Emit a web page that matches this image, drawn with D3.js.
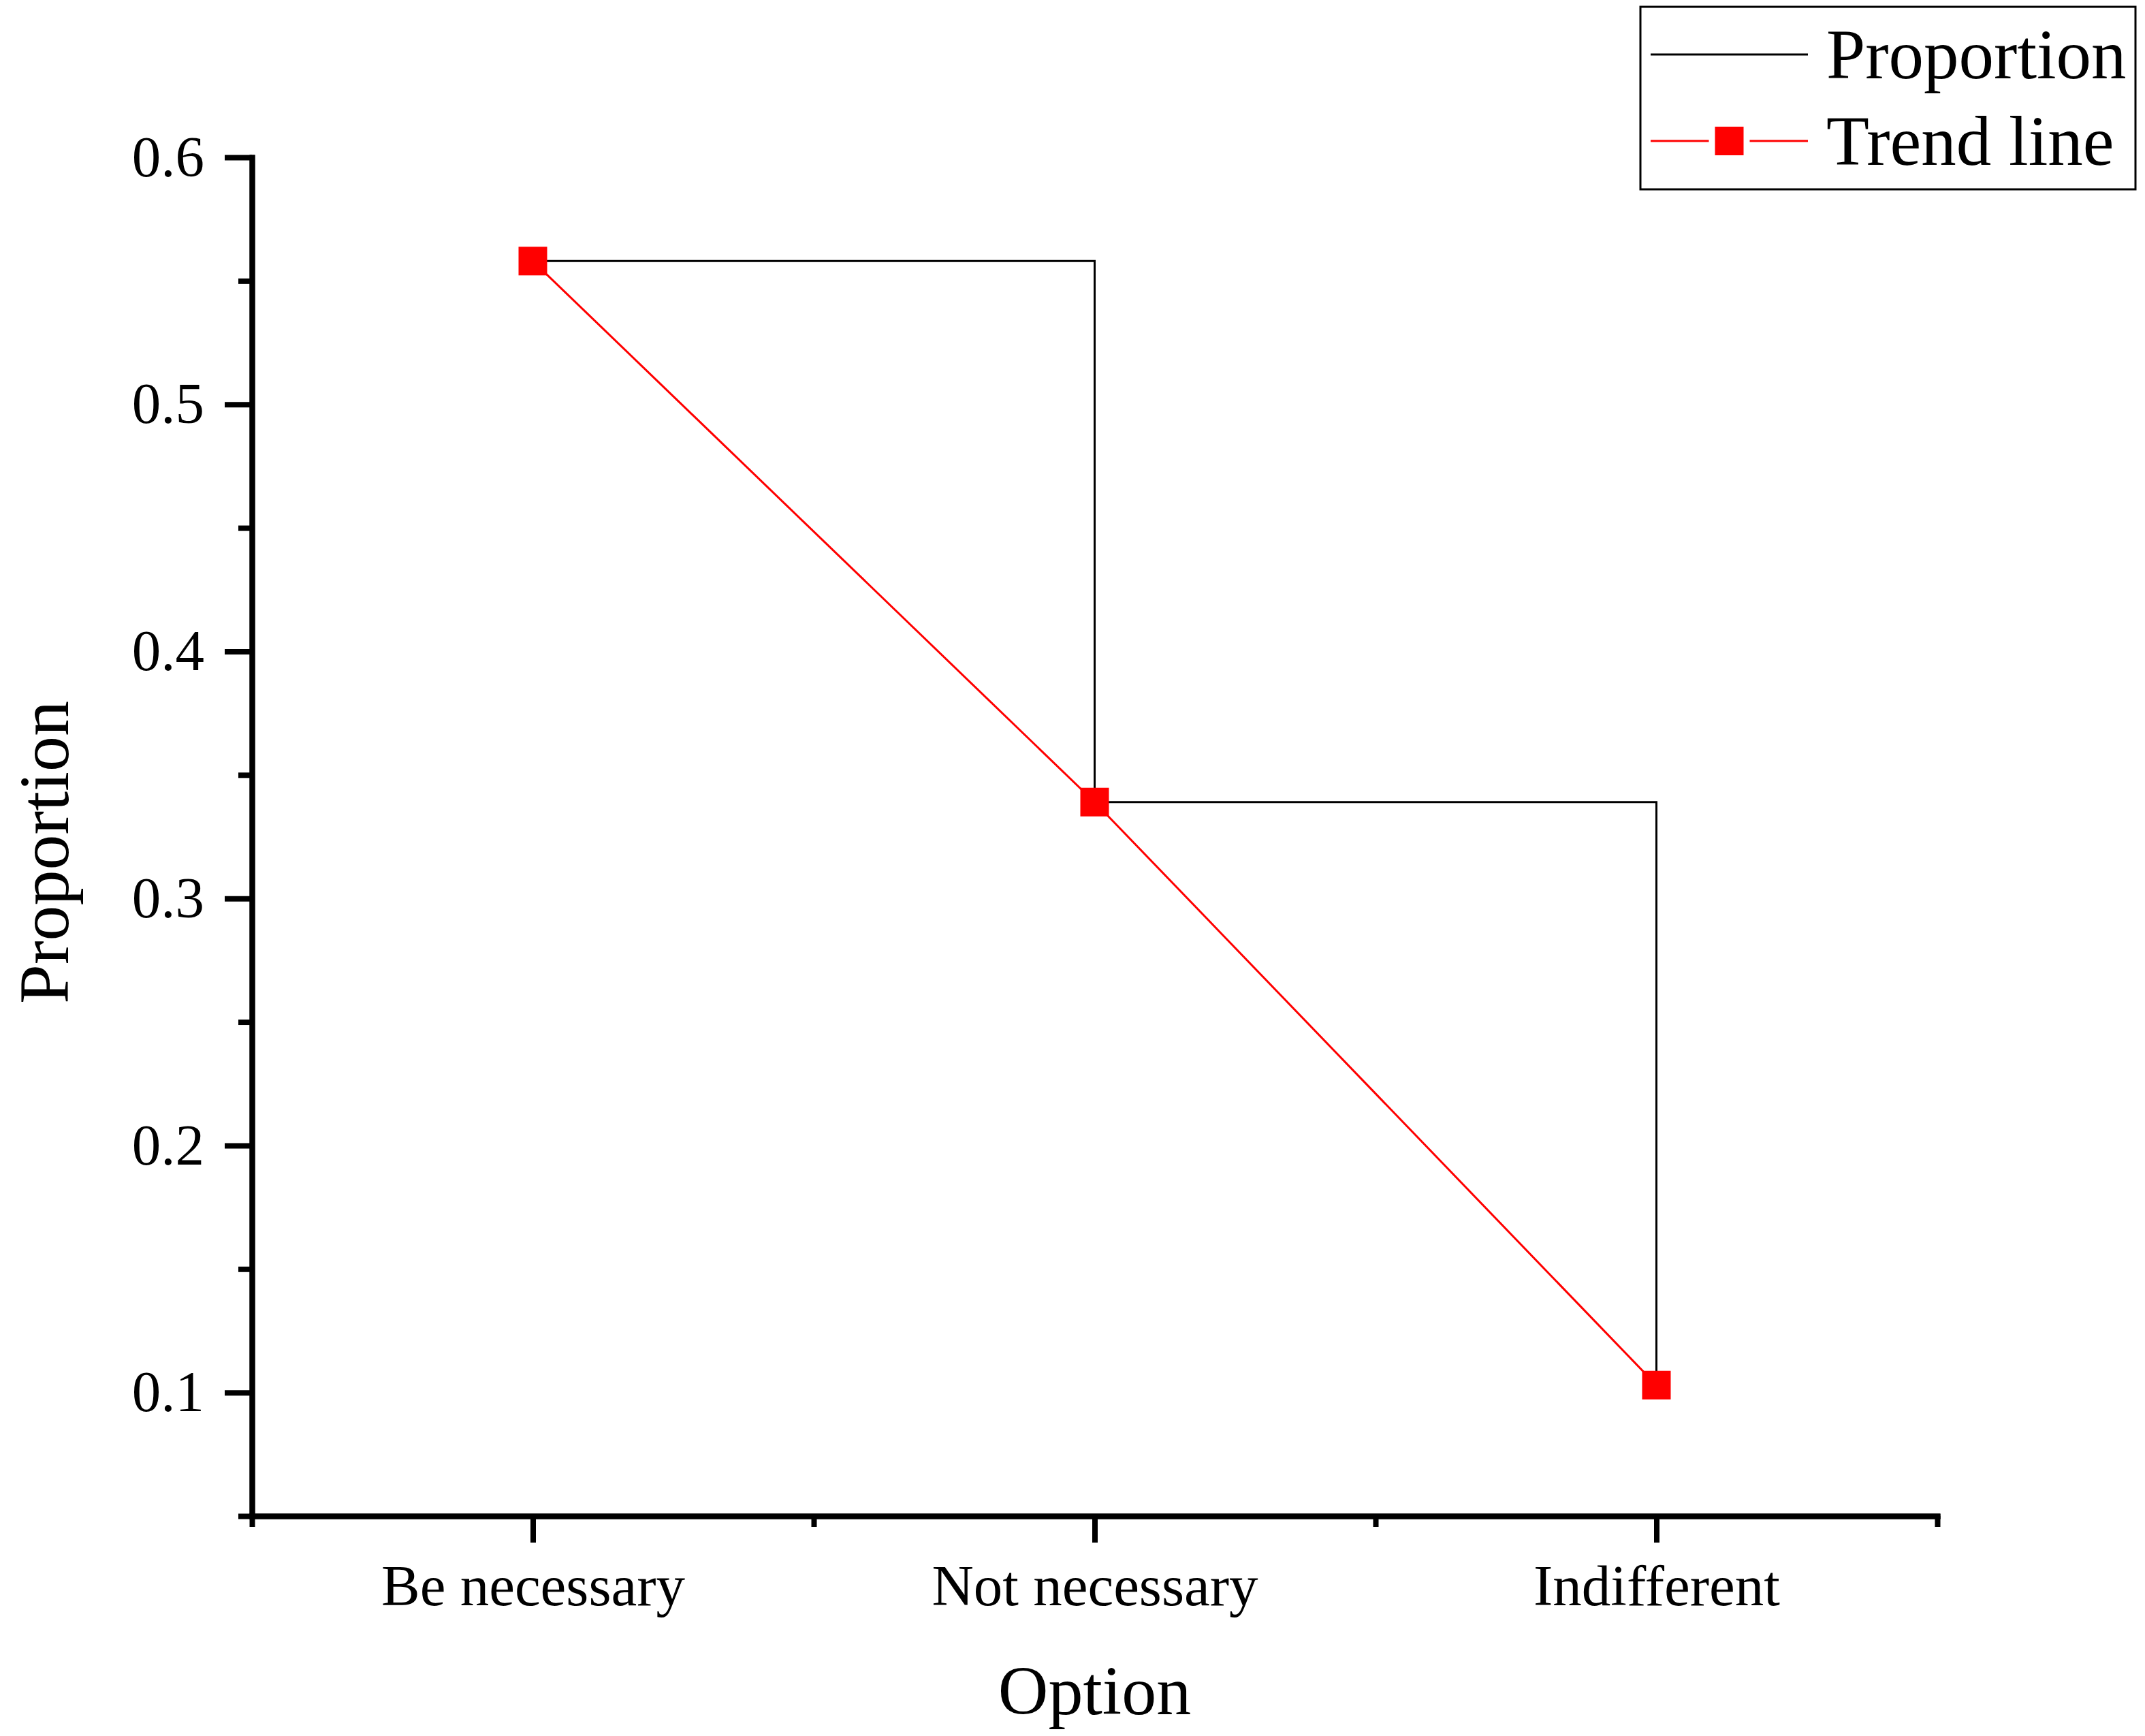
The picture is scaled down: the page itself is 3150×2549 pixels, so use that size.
<!DOCTYPE html>
<html>
<head>
<meta charset="utf-8">
<script src="https://cdn.jsdelivr.net/npm/d3@7/dist/d3.min.js"></script>
<style>
  html, body { margin: 0; padding: 0; background: #ffffff; }
  svg { display: block; }
  text { font-family: "Liberation Serif", "Times New Roman", serif; fill: #000; }
</style>
</head>
<body>
<svg id="chart" width="3150" height="2549"></svg>
<script>
// ---- Data ----
const categories = ["Be necessary", "Not necessary", "Indifferent"];
const proportion = [0.558, 0.339, 0.103];
const trendLine = [0.558, 0.339, 0.103];
const yMajorTicks = [0.1, 0.2, 0.3, 0.4, 0.5, 0.6];
const yMinorTicks = [0.05, 0.15, 0.25, 0.35, 0.45, 0.55];
const xMinorTicks = [-0.5, 0.5, 1.5, 2.5];
const seriesNames = ["Proportion", "Trend line"];
const xTitle = "Option";
const yTitle = "Proportion";

// ---- Layout ----
const W = 3150, H = 2549;
const plotL = 370, plotR = 2845, plotT = 231, plotB = 2226;
const svg = d3.select("#chart");
svg.append("rect").attr("width", W).attr("height", H).attr("fill", "#ffffff");

const x = d3.scaleLinear().domain([-0.5, 2.5]).range([plotL, plotR]);
const y = d3.scaleLinear().domain([0.05, 0.6]).range([plotB, plotT]);

const axisStroke = 8;
function styleAxis(g) {
  g.select(".domain").attr("stroke", "#000").attr("stroke-width", axisStroke).attr("stroke-linecap", "square");
  g.selectAll(".tick line").attr("stroke", "#000").attr("stroke-width", axisStroke);
}

// Y axis minor
const gyMinor = svg.append("g").attr("transform", `translate(${plotL},0)`)
  .call(d3.axisLeft(y).tickValues(yMinorTicks).tickSize(20).tickSizeOuter(0).tickFormat(""));
styleAxis(gyMinor);
// Y axis major
const gy = svg.append("g").attr("transform", `translate(${plotL},0)`)
  .call(d3.axisLeft(y).tickValues(yMajorTicks).tickSize(40).tickSizeOuter(0).tickPadding(30).tickFormat(d3.format(".1f")));
styleAxis(gy);
gy.selectAll(".tick text").attr("font-size", 85).attr("dy", "0.32em")
  .style("font-family", '"Liberation Serif", "Times New Roman", serif');

// X axis minor
const gxMinor = svg.append("g").attr("transform", `translate(0,${plotB})`)
  .call(d3.axisBottom(x).tickValues(xMinorTicks).tickSize(16).tickSizeOuter(0).tickFormat(""));
styleAxis(gxMinor);
// X axis major
const gx = svg.append("g").attr("transform", `translate(0,${plotB})`)
  .call(d3.axisBottom(x).tickValues(d3.range(categories.length)).tickSize(39).tickSizeOuter(0).tickPadding(32)
    .tickFormat(i => categories[i]));
styleAxis(gx);
gx.selectAll(".tick text").attr("font-size", 85)
  .style("font-family", '"Liberation Serif", "Times New Roman", serif');

// Axis titles
svg.append("text").attr("x", (plotL + plotR) / 2).attr("y", 2517)
  .attr("text-anchor", "middle").attr("font-size", 102).text(xTitle);
svg.append("text").attr("transform", `translate(100,${(plotT + plotB) / 2 + 23}) rotate(-90)`)
  .attr("text-anchor", "middle").attr("font-size", 104).text(yTitle);

// ---- Series ----
const propLine = d3.line().x((d, i) => x(i)).y(d => y(d)).curve(d3.curveStepAfter);
svg.append("path").datum(proportion).attr("d", propLine)
  .attr("fill", "none").attr("stroke", "#000").attr("stroke-width", 3);

const trend = d3.line().x((d, i) => x(i)).y(d => y(d));
svg.append("path").datum(trendLine).attr("d", trend)
  .attr("fill", "none").attr("stroke", "#ff0000").attr("stroke-width", 3);

const ms = 42;
svg.selectAll("rect.marker").data(trendLine).enter().append("rect")
  .attr("class", "marker")
  .attr("x", (d, i) => x(i) - ms / 2).attr("y", d => y(d) - ms / 2)
  .attr("width", ms).attr("height", ms).attr("fill", "#ff0000");

// ---- Legend ----
const lg = svg.append("g");
lg.append("rect").attr("x", 2409).attr("y", 10).attr("width", 727).attr("height", 268)
  .attr("fill", "#fff").attr("stroke", "#000").attr("stroke-width", 3);
const lx0 = 2424, lx1 = 2655, rows = [80, 207];
lg.append("line").attr("x1", lx0).attr("x2", lx1).attr("y1", rows[0]).attr("y2", rows[0])
  .attr("stroke", "#000").attr("stroke-width", 3);
lg.append("line").attr("x1", lx0).attr("x2", (lx0 + lx1) / 2 - 30).attr("y1", rows[1]).attr("y2", rows[1])
  .attr("stroke", "#ff0000").attr("stroke-width", 3);
lg.append("line").attr("x1", (lx0 + lx1) / 2 + 30).attr("x2", lx1).attr("y1", rows[1]).attr("y2", rows[1])
  .attr("stroke", "#ff0000").attr("stroke-width", 3);
lg.append("rect").attr("x", (lx0 + lx1) / 2 - ms / 2).attr("y", rows[1] - ms / 2)
  .attr("width", ms).attr("height", ms).attr("fill", "#ff0000");
lg.selectAll("text.leg").data(seriesNames).enter().append("text").attr("class", "leg")
  .attr("x", 2682).attr("y", (d, i) => [115, 242][i]).attr("font-size", 103).text(d => d);
</script>
</body>
</html>
